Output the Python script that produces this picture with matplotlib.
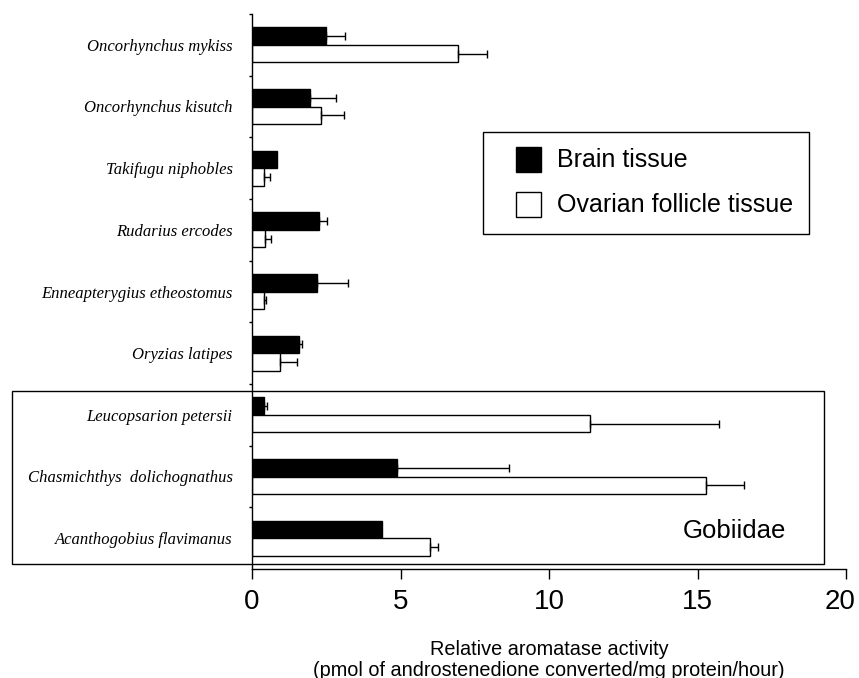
import numpy as np
from matplotlib import pyplot as plt
from matplotlib.patches import Rectangle
from matplotlib.lines import Line2D
from matplotlib.transforms import ScaledTranslation

species = ["Oncorhynchus mykiss", "Oncorhynchus kisutch", "Takifugu niphobles",
           "Rudarius ercodes", "Enneapterygius etheostomus", "Oryzias latipes",
           "Leucopsarion petersii", "Chasmichthys  dolichognathus",
           "Acanthogobius flavimanus"]
brain = [2.5, 1.95, 0.85, 2.27, 2.18, 1.59, 0.39, 4.88, 4.39]
brain_err = [0.63, 0.89, 0.0, 0.24, 1.04, 0.10, 0.10, 3.76, 0.0]
ovary = [6.95, 2.32, 0.40, 0.45, 0.40, 0.94, 11.38, 15.28, 5.99]
ovary_err = [0.95, 0.78, 0.21, 0.19, 0.07, 0.56, 4.34, 1.27, 0.26]
x_ticks = [0, 5, 10, 15, 20]

plt.rcParams['font.family'] = ['Liberation Sans', 'DejaVu Sans']

fig = plt.figure(figsize=(8.59, 6.78), dpi=100)
ax = fig.add_axes([252 / 859, 1 - 569 / 678, 594 / 859, 555 / 678])

y = np.arange(len(species))
h = 0.285
ax.barh(y - h / 2, brain, height=h, color='black', edgecolor='black', linewidth=1)
ax.barh(y + h / 2, ovary, height=h, color='white', edgecolor='black', linewidth=1)

# one-sided error bars, skip the ones without visible error
for vals, errs, off in [(brain, brain_err, -h / 2), (ovary, ovary_err, h / 2)]:
    vals = np.array(vals)
    errs = np.array(errs)
    m = errs > 0
    ax.errorbar(vals[m], y[m] + off, xerr=[np.zeros(m.sum()), errs[m]], fmt='none',
                ecolor='black', elinewidth=1, capsize=3, capthick=1)

ax.set_xlim(0, 20)
ax.set_ylim(len(species) - 0.5, -0.5)
ax.set_xticks(x_ticks)
ax.set_xticklabels([str(t) for t in x_ticks], fontsize=20)
ax.tick_params(axis='x', direction='out', length=7.5, width=1, pad=7)
# last label sits a bit left of its tick in the original
last = ax.get_xticklabels()[-1]
last.set_transform(last.get_transform() + ScaledTranslation(-6 / 100, 0, fig.dpi_scale_trans))

ax.set_yticks(y)
ax.set_yticklabels(species, fontsize=12, family='Liberation Serif', style='italic')
ax.tick_params(axis='y', which='major', length=0, pad=14)
ax.set_yticks(np.arange(-0.5, len(species) - 1), minor=True)
ax.tick_params(axis='y', which='minor', direction='out', length=2.5, width=1)

for s in ['top', 'right']:
    ax.spines[s].set_visible(False)
for s in ['left', 'bottom']:
    ax.spines[s].set_linewidth(1)

ax.set_xlabel("Relative aromatase activity\n(pmol of androstenedione converted/mg protein/hour)",
              fontsize=14.3, labelpad=18, linespacing=1.1)

handles = [Line2D([], [], ls='none', marker='s', markersize=18, markerfacecolor='black',
                  markeredgecolor='black', markeredgewidth=1),
           Line2D([], [], ls='none', marker='s', markersize=18, markerfacecolor='white',
                  markeredgecolor='black', markeredgewidth=1)]
leg = ax.legend(handles, ["Brain tissue", "Ovarian follicle tissue"], fontsize=18,
                loc='upper left', bbox_to_anchor=(483 / 859, 1 - 132 / 678),
                bbox_transform=fig.transFigure, borderaxespad=0, borderpad=0.65,
                handlelength=2.3, handletextpad=0.0, labelspacing=0.85,
                fancybox=False, edgecolor='black', framealpha=1)
leg.get_frame().set_linewidth(1)

# Gobiidae group box
fig.patches.append(Rectangle((12 / 859, 1 - 564 / 678), 812 / 859, 173 / 678,
                             transform=fig.transFigure, fill=False,
                             edgecolor='black', linewidth=1))
fig.text(734 / 859, 1 - 531 / 678, "Gobiidae", fontsize=18.5, ha='center', va='center')

plt.savefig('out.png', dpi=100)
